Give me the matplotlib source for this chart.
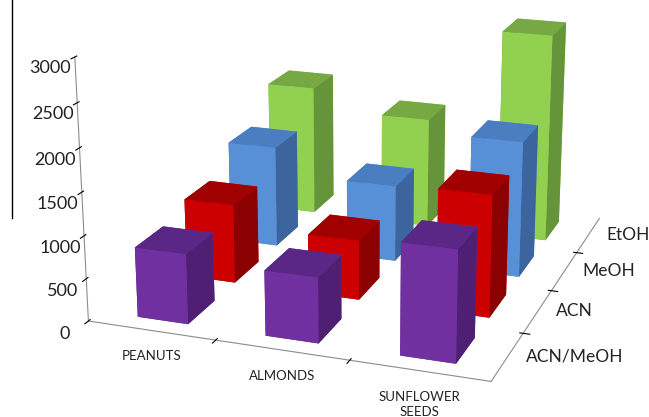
import numpy as np
import matplotlib
matplotlib.use("Agg")
import matplotlib.pyplot as plt
import matplotlib.transforms as mtransforms
from matplotlib.lines import Line2D

plt.rcParams['font.family'] = ['Lato', 'DejaVu Sans']

categories = ['PEANUTS', 'ALMONDS', 'SUNFLOWER\nSEEDS']
solvents = ['ACN/MeOH', 'ACN', 'MeOH', 'EtOH']
acn_meoh = [820, 755, 1270]
acn = [950, 710, 1435]
meoh = [1255, 940, 1650]
etoh = [1655, 1395, 2600]
series = [acn_meoh, acn, meoh, etoh]

# face colours per series: bottom, top, front(-y), back(+y), left(-x), right(+x)
faces = {
    'ACN/MeOH': ('#5a2585', '#5a2787', '#7030a0', '#7030a0', '#4e1f72', '#4e1f72'),
    'ACN': ('#9e0000', '#a00000', '#cc0000', '#cc0000', '#8b0000', '#8b0000'),
    'MeOH': ('#4575b5', '#4a7ec0', '#5890d8', '#5890d8', '#3b659c', '#3b659c'),
    'EtOH': ('#6f9f3c', '#76a843', '#92d050', '#92d050', '#66943a', '#66943a'),
}

fig = plt.figure(figsize=(6.49, 4.17), dpi=100)
ax = fig.add_axes([-0.052, -0.017, 1.2, 1.3], projection='3d')

w, d = 0.4, 0.55
for j, name in enumerate(solvents):
    vals = series[j]
    for i, v in enumerate(vals):
        ax.bar3d(i - w / 2, j - d / 2, 0, w, d, v, color=list(faces[name]),
                 shade=False, edgecolor='none')

ax.set_xlim(-0.5, 2.5)
ax.set_ylim(-0.5, 3.5)
ax.set_zlim(0, 3000)

# ticks sit between categories / series, labels go in the middle
ax.set_xticks(np.arange(0.5, len(categories) - 1, 1.0))
ax.set_xticklabels([])
ax.set_yticks(np.arange(0.5, len(solvents) - 1, 1.0))
ax.set_yticklabels([])

below = ax.transData + mtransforms.ScaledTranslation(0, -0.2, fig.dpi_scale_trans)
for i, c in enumerate(categories):
    ax.text(i, -0.5, 0, c, fontsize=9.5, ha='center', va='top', color='#222222',
            linespacing=1.3, transform=below)
right = ax.transData + mtransforms.ScaledTranslation(0.18, 0, fig.dpi_scale_trans)
for j, s in enumerate(solvents):
    ax.text(2.5, j, 0, s, fontsize=12.5, ha='left', va='center', color='#222222',
            transform=right)

ax.set_zticks(np.arange(0, 3001, 500))
ax.set_zticklabels([str(t) for t in range(0, 3001, 500)], fontsize=13, color='#222222')
ax.zaxis.set_ticks_position('lower')
ax.tick_params(axis='z', pad=0)

for axis in (ax.xaxis, ax.yaxis, ax.zaxis):
    axis.pane.fill = False
    axis.pane.set_edgecolor('none')
    axis.line.set_color('#8c8c8c')
    axis._axinfo['tick']['color'] = '#8c8c8c'
ax.grid(False)

ax.set_box_aspect((2.6, 2.9, 1.7), zoom=1.155)
ax.view_init(elev=17.7, azim=-70.4)
ax.set_proj_type('persp', focal_length=0.6)

fig.add_artist(Line2D([0.018, 0.018], [1.0, 0.477], color='black', lw=1))

fig.savefig('out.png', dpi=100)
